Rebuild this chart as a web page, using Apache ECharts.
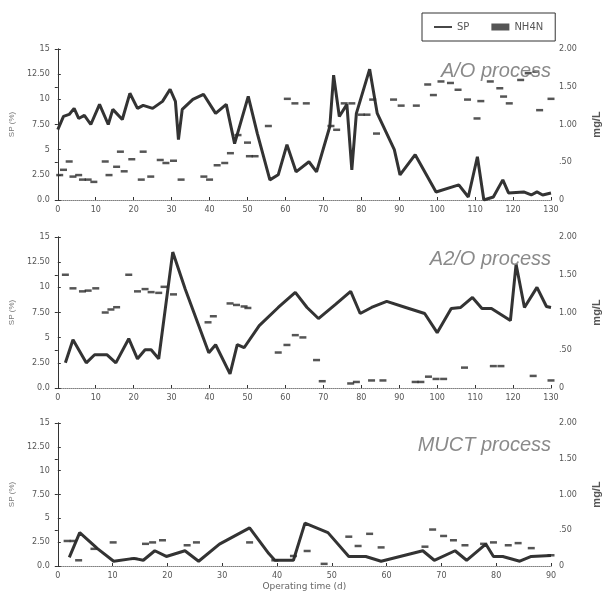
<!DOCTYPE html>
<html><head><meta charset="utf-8">
<script src="https://cdn.jsdelivr.net/npm/echarts@6/dist/echarts.min.js"></script>
<style>html,body{margin:0;padding:0;background:#fff}#c{width:610px;height:592px}</style>
</head><body><div id="c"></div>
<script>
const processNames = ['A/O process', 'A2/O process', 'MUCT process'];
const seriesNames = ['SP', 'NH4N'];
const xMax = [130, 130, 90];

// A/O process
const spDaysAO = [0,1.5,3,4.3,5.5,7,8.7,11,13.3,14.5,17,19,21,22.5,25,27.6,29.6,31,31.8,32.8,35.6,38.4,41.6,44.4,46.6,50.2,52.6,55.9,58.1,60.4,62.8,66.2,68.2,71.7,72.7,74.2,76.2,77.5,78.7,82.2,84.2,88.7,90.2,94.2,99.7,105.7,108.2,110.6,112.3,114.8,117.3,118.8,122.8,124.8,126.3,127.8,130];
const spAO = [7.0,8.3,8.5,9.1,8.1,8.4,7.5,9.5,7.5,9.0,8.0,10.6,9.1,9.4,9.1,9.8,11.0,9.8,6.0,9.0,10.0,10.5,8.6,9.5,5.6,10.3,6.6,2.0,2.5,5.5,2.8,3.8,2.8,7.3,12.4,8.3,9.5,3.0,8.6,13.0,8.6,5.0,2.5,4.5,0.8,1.5,0.3,4.3,0,0.3,2.0,0.7,0.8,0.5,0.8,0.5,0.7];
const nhDaysAO = [0.5,1.5,3,4,5.5,6.5,8,9.5,12.5,13.5,15.5,16.5,17.5,19.5,22,22.5,24.5,27,28.5,30.5,32.5,38.5,40,42,44,45.5,47.5,50,50.5,52,55.5,60.5,62.5,65.5,72,73.5,75.5,77.5,80,81.5,83,84,88.5,90.5,94.5,97.5,99,101,103.5,105.5,108,110.5,111.5,114,116.5,117.5,119,122,124,126,127,130];
const nhAO = [0.33,0.40,0.51,0.31,0.33,0.27,0.27,0.24,0.51,0.33,0.44,0.64,0.38,0.54,0.27,0.64,0.31,0.53,0.49,0.52,0.27,0.31,0.27,0.46,0.49,0.62,0.86,0.76,0.58,0.58,0.98,1.34,1.28,1.28,0.98,0.93,1.28,1.28,1.13,1.13,1.33,0.88,1.33,1.25,1.25,1.53,1.39,1.57,1.55,1.46,1.33,1.08,1.31,1.57,1.48,1.37,1.28,1.59,1.68,1.70,1.19,1.34];

// A2/O process
const spDaysA2O = [2,4,7.5,9.7,13,15.3,18.7,21,23,24.6,26.6,30.3,33.6,39.8,41.6,45.4,47.3,49.1,53.1,58.1,62.6,65.7,68.7,73.2,77.2,79.7,82.7,86.7,91.7,96.7,100,103.7,106.2,109.3,111.8,114.3,119.3,120.8,123,126.3,128.8,130];
const spA2O = [2.5,4.8,2.5,3.3,3.3,2.5,4.9,2.9,3.8,3.8,2.9,13.5,9.8,3.5,4.3,1.4,4.3,4.0,6.2,8.0,9.5,8.0,6.9,8.3,9.6,7.4,8.0,8.6,8.0,7.4,5.5,7.9,8.0,9.0,7.9,7.9,6.7,12.3,8.0,10.0,8.1,8.0];
const nhDaysA2O = [2,4,6.5,8,10,12.5,14,15.5,18.7,21,23,24.6,26.6,28,30.5,39.6,41,45.4,47.1,49.1,50.1,58.1,60.4,62.6,64.6,68.2,69.7,77.2,78.7,82.7,85.7,94.2,95.7,97.7,99.7,101.7,107.2,114.8,116.8,125.3,130];
const nhA2O = [1.50,1.32,1.28,1.29,1.32,1.00,1.04,1.07,1.50,1.28,1.31,1.27,1.26,1.34,1.24,0.87,0.95,1.12,1.10,1.08,1.06,0.47,0.57,0.70,0.67,0.37,0.09,0.06,0.08,0.10,0.10,0.08,0.08,0.15,0.12,0.12,0.27,0.29,0.29,0.16,0.10];

// MUCT process
const spDaysMUCT = [2.1,4.0,7.3,10.2,13.9,15.6,17.7,19.8,23.2,25.7,29.5,35.0,38.5,39.6,43.0,45.1,49.3,53.1,56.2,59.0,66.6,68.7,72.5,74.6,78.1,79.5,81.2,84.3,86.4,90];
const spMUCT = [0.9,3.5,1.8,0.5,0.8,0.6,1.6,1.0,1.6,0.5,2.3,4.0,1.3,0.6,0.6,4.5,3.5,1.0,1.0,0.5,1.6,0.6,1.6,0.6,2.3,1.0,1.0,0.5,1.0,1.1];
const nhDaysMUCT = [1.7,2.8,3.8,6.6,10.1,13.9,16.0,17.3,19.1,23.6,25.3,35.0,39.6,43.0,45.5,48.6,53.1,54.8,56.9,59.0,67.0,68.4,70.4,72.2,74.3,77.7,79.5,82.2,84.0,86.4,90];
const nhMUCT = [0.35,0.35,0.08,0.24,0.33,0.10,0.31,0.33,0.36,0.29,0.33,0.33,0.08,0.14,0.21,0.03,0.41,0.28,0.45,0.26,0.27,0.51,0.42,0.36,0.29,0.31,0.33,0.29,0.32,0.25,0.15];

const spDays = [spDaysAO, spDaysA2O, spDaysMUCT];
const spVals = [spAO, spA2O, spMUCT];
const nhDays = [nhDaysAO, nhDaysA2O, nhDaysMUCT];
const nhVals = [nhAO, nhA2O, nhMUCT];

const pair = (xs, ys) => xs.map((x, i) => [x, ys[i]]);

const grids = [
  {left: 52, right: 53, top: 49, height: 151},
  {left: 52, right: 53, top: 237, height: 151},
  {left: 52, right: 53, top: 423, height: 146}
];
const titleTops = [56, 244, 430];

const lblStyle = {fontSize: 8, color: '#555', fontFamily: 'DejaVu Sans'};
const leftFmt = v => v === 0 ? '0.0' : (v % 5 === 0 ? String(v) : v.toFixed(2));
const rightFmt = v => v === 0 ? '0' : (v === 0.5 ? '.50' : v.toFixed(2));

const xAxes = [], yAxes = [], series = [], titles = [];
for (let i = 0; i < 3; i++) {
  xAxes.push({
    type: 'value', gridIndex: i, min: 0, max: xMax[i], interval: 10,
    axisLine: {lineStyle: {color: '#333', width: 1}},
    axisTick: {show: true, inside: true, length: 3, lineStyle: {color: '#333'}},
    axisLabel: Object.assign({margin: 6}, lblStyle),
    splitLine: {show: false},
    name: i === 2 ? 'Operating time (d)' : '',
    nameLocation: 'middle', nameGap: 16,
    nameTextStyle: {fontSize: 9, color: '#666', fontFamily: 'DejaVu Sans'}
  });
  xAxes.push({
    type: 'value', gridIndex: i, position: 'top', min: 0, max: xMax[i],
    axisLine: {show: true, lineStyle: {color: '#aaa', type: 'dotted', width: 1}},
    axisTick: {show: false}, axisLabel: {show: false}, splitLine: {show: false}
  });
  yAxes.push({
    type: 'value', gridIndex: i, position: 'left', min: 0, max: 15, interval: 2.5,
    axisLine: {show: true, lineStyle: {color: '#333'}},
    axisTick: {show: true, inside: true, length: 3},
    axisLabel: Object.assign({formatter: leftFmt, margin: 8}, lblStyle),
    splitLine: {show: false},
    name: 'SP (%)', nameLocation: 'middle', nameGap: 32, nameRotate: 90,
    nameTextStyle: {fontSize: 8, color: '#777'}
  });
  yAxes.push({
    type: 'value', gridIndex: i, position: 'right', min: 0, max: 2, interval: 0.5,
    axisLine: {show: true, lineStyle: {color: '#333'}},
    axisTick: {show: true, inside: true, length: 3},
    axisLabel: Object.assign({formatter: rightFmt, margin: 8}, lblStyle),
    splitLine: {show: false},
    name: 'mg/L', nameLocation: 'middle', nameGap: 40, nameRotate: 90,
    nameTextStyle: {fontSize: 11, color: '#555', fontWeight: 'bold'}
  });
  series.push({
    name: seriesNames[0], type: 'line', xAxisIndex: 2 * i, yAxisIndex: 2 * i,
    data: pair(spDays[i], spVals[i]), showSymbol: false, symbol: 'none',
    lineStyle: {color: '#333', width: 3}, itemStyle: {color: '#333'}, z: 3
  });
  series.push({
    name: seriesNames[1], type: 'scatter', xAxisIndex: 2 * i, yAxisIndex: 2 * i + 1,
    data: pair(nhDays[i], nhVals[i]), symbol: 'rect', symbolSize: [7, 2.5],
    itemStyle: {color: '#2a2a2a'}, z: 4
  });
  titles.push({
    text: processNames[i], right: 54, top: titleTops[i],
    textStyle: {fontStyle: 'italic', fontWeight: 'normal', fontSize: 20, color: '#8a8a8a', fontFamily: 'Liberation Sans'}
  });
}

const chart = echarts.init(document.getElementById('c'), null, {renderer: 'canvas'});
chart.setOption({
  animation: false,
  backgroundColor: '#fff',
  title: titles,
  legend: {
    left: 422, top: 13,
    padding: [9, 12], itemGap: 22,
    borderColor: '#333', borderWidth: 1,
    itemWidth: 18, itemHeight: 7,
    textStyle: {fontSize: 10, color: '#555', fontFamily: 'DejaVu Sans'},
    data: [
      {name: seriesNames[0], icon: 'path://M0,3 L20,3 L20,5 L0,5 Z'},
      {name: seriesNames[1], icon: 'rect'}
    ]
  },
  grid: grids,
  xAxis: xAxes,
  yAxis: yAxes,
  series: series
});
</script>
</body></html>
